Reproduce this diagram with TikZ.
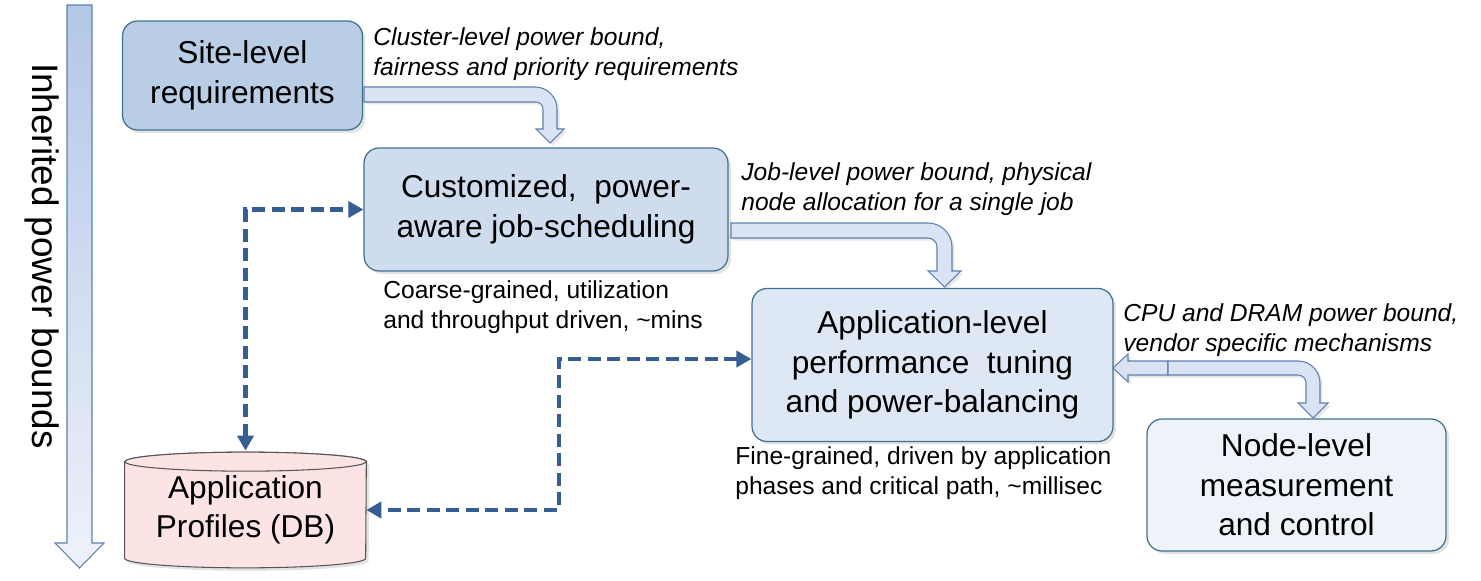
\documentclass[tikz,border=0pt]{standalone}
\usepackage{fontspec}
\setmainfont{Liberation Sans}
\usetikzlibrary{arrows.meta,shadows,calc}

\definecolor{boxline}{HTML}{41718F}
\definecolor{sitefill}{HTML}{B9CDE5}
\definecolor{schedfill}{HTML}{CFDCEE}
\definecolor{tunefill}{HTML}{DEE8F5}
\definecolor{nodefill}{HTML}{EEF3FA}
\definecolor{dbfill}{HTML}{FCE4E4}
\definecolor{dbline}{HTML}{555555}
\definecolor{arrowfill}{HTML}{DAE3F3}
\definecolor{arrowline}{HTML}{5F80B0}
\definecolor{dashblue}{HTML}{355E92}
\definecolor{bigtop}{HTML}{B4C7E7}
\definecolor{bigbottom}{HTML}{EEF2FA}

\begin{document}
\begin{tikzpicture}[x=0.02cm,y=-0.02cm,
    box/.style={draw=boxline, line width=0.7pt, rounded corners=0.3cm, align=center,
      font=\fontsize{18}{22.5}\selectfont,
      drop shadow={opacity=0.22, shadow xshift=0.06cm, shadow yshift=-0.06cm}},
    note/.style={anchor=north west, align=left, inner sep=0pt,
      font=\fontsize{14}{17}\selectfont\itshape},
    remark/.style={note, font=\fontsize{14}{17}\selectfont},
    fatarrow/.style={fill=arrowfill, draw=arrowline, line width=0.6pt,
      drop shadow={opacity=0.2, shadow xshift=0.05cm, shadow yshift=-0.05cm}},
    dlink/.style={draw=dashblue, line width=2.7pt, dash pattern=on 0.26cm off 0.13cm,
      {Triangle[length=0.3cm,width=0.32cm]}-{Triangle[length=0.3cm,width=0.32cm]}}]
  \useasboundingbox (0,0) rectangle (1481,581);

  % inherited bounds
  \draw[top color=bigtop, bottom color=bigbottom, draw=arrowline, line width=0.6pt]
    (67,5) -- (92,5) -- (92,543) -- (104,543) -- (79.5,568) -- (55,543) -- (67,543) -- cycle;
  \node[rotate=-90, font=\fontsize{21}{25}\selectfont] (inherit) at (42,256) {Inherited power bounds};

  % levels
  \node[box, fill=sitefill, minimum width=4.8cm, minimum height=2.18cm] (site) at (242.5,75.5) {Site-level\\requirements};
  \node[box, fill=schedfill, minimum width=7.28cm, minimum height=2.46cm] (sched) at (546,209.5) {Customized,\ \ power-\\aware job-scheduling};
  \node[box, fill=tunefill, minimum width=7.22cm, minimum height=3.06cm] (tune) at (932.5,365) {Application-level\\performance\ \ tuning\\and power-balancing};
  \node[box, fill=nodefill, minimum width=5.98cm, minimum height=2.64cm] (nodectl) at (1296.5,485) {Node-level\\measurement\\and control};

  % profiles db
  \node[minimum width=4.82cm, minimum height=1.92cm] (db) at (245.5,510) {};
  \draw[fill=dbfill, draw=dbline, line width=0.6pt,
      drop shadow={opacity=0.22, shadow xshift=0.06cm, shadow yshift=-0.06cm}]
    (db.north west) -- (db.south west) arc[start angle=180, end angle=0, x radius=120.5, y radius=9.5]
    -- (db.north east) arc[start angle=0, end angle=-180, x radius=120.5, y radius=9.5] -- cycle;
  \draw[fill=dbfill, draw=dbline, line width=0.6pt] (db.north) ellipse[x radius=120.5, y radius=9.5];
  \node[font=\fontsize{18}{22.5}\selectfont, align=center] (dbtext) at (db.center) {Application\\Profiles (DB)};
  \coordinate (dbtop) at ($(db.north)+(0,-11)$);

  % bent arrows
  \draw[fatarrow] (364,87) -- (535,87) arc[start angle=-90, end angle=0, radius=22] -- (557,129) -- (564,129)
    -- (550,143) -- (536,129) -- (543,129) -- (543,109) arc[start angle=0, end angle=-90, radius=7] -- (364,102) -- cycle;
  \draw[fatarrow] (731,223) -- (928,223) arc[start angle=-90, end angle=0, radius=24] -- (952,271) -- (961,271)
    -- (944.5,287) -- (928,271) -- (937,271) -- (937,247) arc[start angle=0, end angle=-90, radius=9] -- (731,238) -- cycle;
  \draw[fatarrow] (1168,361) -- (1128,361) -- (1128,354) -- (1113,368) -- (1128,382) -- (1128,375) -- (1168,375) -- cycle;
  \draw[fatarrow] (1168,361) -- (1298,361) arc[start angle=-90, end angle=0, radius=22] -- (1320,403) -- (1328,403)
    -- (1313,418) -- (1298,403) -- (1306,403) -- (1306,383) arc[start angle=0, end angle=-90, radius=8] -- (1168,375) -- cycle;

  % profile links
  \coordinate (tunein) at ($(tune.west)+(0,-6)$);
  \draw[dlink] (dbtop) |- (sched.west);
  \draw[dlink] (tunein) -| ($(db.east)!0.5!(tunein)$) |- (db.east);

  % notes
  \node[note] (clusternote) at (373,27) {Cluster-level power bound,\\fairness and priority requirements};
  \node[note] (jobnote) at (741,162) {Job-level power bound, physical\\node allocation for a single job};
  \node[note] (cpunote) at (1123,303) {CPU and DRAM power bound,\\vendor specific mechanisms};
  \node[remark] (coarsenote) at (383,280) {Coarse-grained, utilization\\and throughput driven, \textasciitilde mins};
  \node[remark] (finenote) at (735,446) {Fine-grained, driven by application\\phases and critical path, \textasciitilde millisec};
\end{tikzpicture}
\end{document}
